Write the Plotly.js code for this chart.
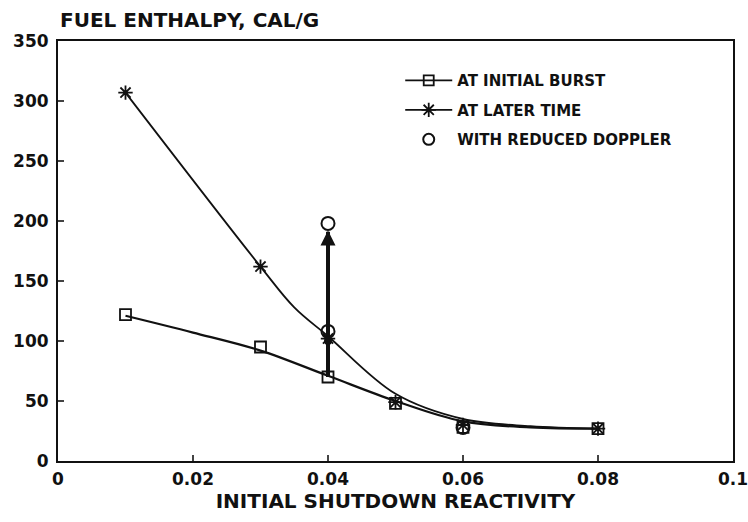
<!DOCTYPE html>
<html>
<head>
<meta charset="utf-8">
<script src="https://cdn.plot.ly/plotly-3.0.1.min.js"></script>
<style>html,body{margin:0;padding:0;background:#fff;}</style>
</head>
<body>
<div id="chart" style="width:748px;height:522px;"></div>
<script>
// Data
const burstX = [0.01, 0.03, 0.04, 0.05, 0.06, 0.08];
const burstY = [122, 95, 70, 48, 28, 27];
const burstCurveX = [0.01, 0.02, 0.03, 0.04, 0.05, 0.06, 0.07, 0.08];
const burstCurveY = [121, 107, 92, 71, 50, 33, 28, 27];

const laterX = [0.01, 0.03, 0.04, 0.05, 0.06, 0.08];
const laterY = [307, 162, 102, 49, 30, 27];
const laterCurveX = [0.01, 0.03, 0.035, 0.04, 0.05, 0.06, 0.07, 0.08];
const laterCurveY = [307, 162, 128, 104, 56, 35, 29, 27];

const dopplerX = [0.04, 0.04, 0.06];
const dopplerY = [198, 108, 28];

const arrowX = [0.04, 0.04];
const arrowY = [70, 191];
const dotX = [0.04];
const dotY = [100];

const legendNames = ["AT INITIAL BURST", "AT LATER TIME", "WITH REDUCED DOPPLER"];
const xTicks = [0, 0.02, 0.04, 0.06, 0.08, 0.1];
const xTickText = ["0", "0.02", "0.04", "0.06", "0.08", "0.1"];
const yTicks = [0, 50, 100, 150, 200, 250, 300, 350];

const FONT = "DejaVu Sans, Liberation Sans, Arial, sans-serif";
const ink = "#111";

const traces = [
  // fitted curves
  {x: burstCurveX, y: burstCurveY, mode: "lines", line: {shape: "spline", smoothing: 1, color: ink, width: 2.2}, showlegend: false, hoverinfo: "skip"},
  {x: laterCurveX, y: laterCurveY, mode: "lines", line: {shape: "spline", smoothing: 1, color: ink, width: 1.8}, showlegend: false, hoverinfo: "skip"},
  // vertical thick line
  {x: arrowX, y: arrowY, mode: "lines", line: {color: ink, width: 4}, showlegend: false, hoverinfo: "skip"},
  {x: dotX, y: dotY, mode: "markers", marker: {symbol: "circle", size: 8, color: ink}, showlegend: false},
  // markers
  {x: burstX, y: burstY, mode: "markers", marker: {symbol: "square-open", size: 11, color: ink, line: {width: 1.8, color: ink}}, showlegend: false},
  {x: laterX, y: laterY, mode: "markers", marker: {symbol: "asterisk-open", size: 12, color: ink, line: {width: 1.8, color: ink}}, showlegend: false},
  {x: dopplerX, y: dopplerY, mode: "markers", marker: {symbol: "circle-open", size: 13, color: ink, line: {width: 2, color: ink}}, showlegend: false},
  // legend entries
  {x: [null], y: [null], name: legendNames[0], legendgroup: "a", mode: "lines+markers", line: {color: ink, width: 1.8}, marker: {symbol: "square-open", size: 10, color: ink, line: {width: 1.8, color: ink}}},
  {x: [null], y: [null], name: legendNames[1], legendgroup: "b", mode: "lines+markers", line: {color: ink, width: 1.8}, marker: {symbol: "asterisk-open", size: 12, color: ink, line: {width: 1.8, color: ink}}},
  {x: [null], y: [null], name: legendNames[2], legendgroup: "c", mode: "markers", marker: {symbol: "circle-open", size: 11, color: ink, line: {width: 2, color: ink}}}
];

const layout = {
  width: 748, height: 522,
  margin: {l: 58, r: 15, t: 41, b: 61},
  paper_bgcolor: "#fff", plot_bgcolor: "#fff",
  font: {family: FONT, color: ink, size: 14, weight: "bold"},
  showlegend: true,
  legend: {x: 0.507, y: 0.945, xanchor: "left", yanchor: "top", bgcolor: "rgba(0,0,0,0)",
           font: {family: FONT, size: 15, weight: "bold", color: ink}, tracegroupgap: 7, itemwidth: 47},
  xaxis: {range: [0, 0.1], tickvals: xTicks, ticktext: xTickText, ticks: "inside", ticklen: 6, tickwidth: 2,
          showline: true, linewidth: 2, linecolor: ink, mirror: true, showgrid: false, zeroline: false,
          tickfont: {family: FONT, size: 17, weight: "bold"}, ticklabelstandoff: 2, ticklabeloverflow: "allow",
          title: {text: "INITIAL SHUTDOWN REACTIVITY", font: {family: FONT, size: 20, weight: "bold"}, standoff: 0}},
  yaxis: {range: [0, 350], tickvals: yTicks, ticks: "inside", ticklen: 6, tickwidth: 2,
          showline: true, linewidth: 2, linecolor: ink, mirror: true, showgrid: false, zeroline: false,
          tickfont: {family: FONT, size: 17, weight: "bold"}, ticklabelstandoff: 4, ticklabeloverflow: "allow"},
  annotations: [
    {text: "FUEL ENTHALPY, CAL/G", xref: "paper", yref: "paper", x: 0, y: 1, xanchor: "left", yanchor: "bottom",
     yshift: 7, showarrow: false, font: {family: FONT, size: 20, weight: "bold", color: ink}},
    {x: arrowX[1], y: arrowY[1] + 1, ax: arrowX[0], ay: arrowY[1] - 12, xref: "x", yref: "y", axref: "x", ayref: "y",
     text: "", showarrow: true, arrowhead: 2, arrowsize: 1, arrowwidth: 3, arrowcolor: ink}
  ]
};

Plotly.newPlot("chart", traces, layout, {displayModeBar: false, staticPlot: true});
</script>
</body>
</html>
